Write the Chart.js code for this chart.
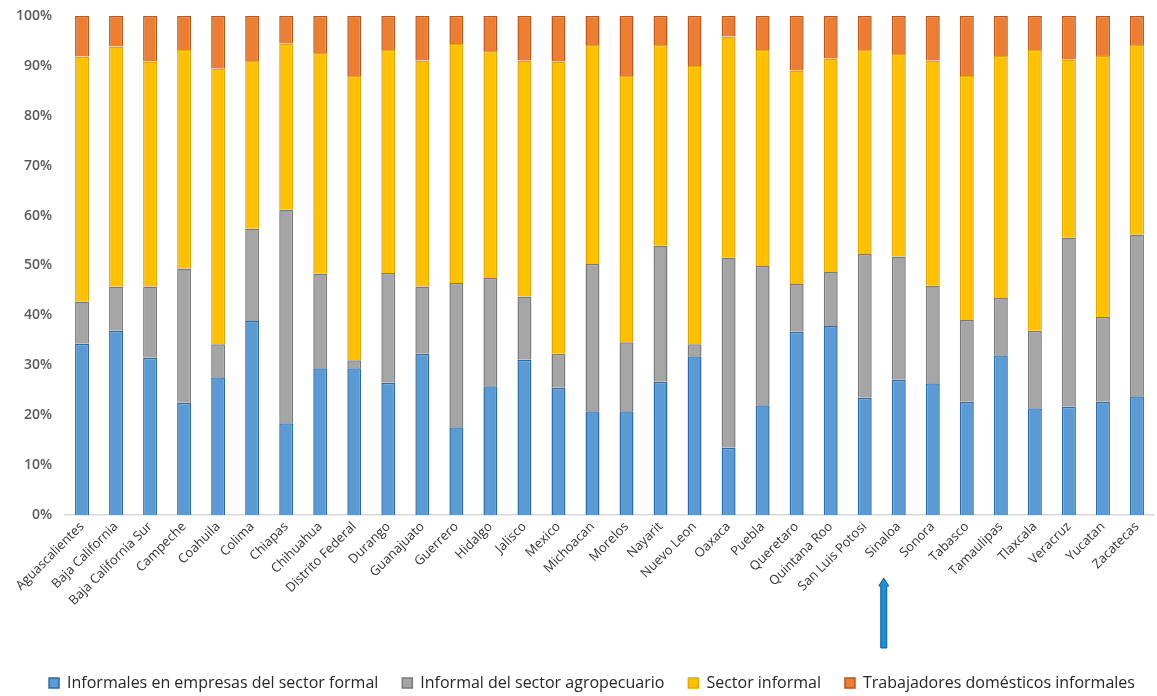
<!DOCTYPE html>
<html>
<head>
<meta charset="utf-8">
<script src="https://cdn.jsdelivr.net/npm/chart.js@4"></script>
<style>
  html, body { margin: 0; padding: 0; background: #fff; overflow: hidden; }
  #wrap { width: 1157px; height: 696px; position: relative; }
</style>
</head>
<body>
<div id="wrap"><canvas id="informalChart"></canvas></div>
<script>
// States (categories)
const states = ['Aguascalientes', 'Baja California', 'Baja California Sur', 'Campeche', 'Coahuila',
  'Colima', 'Chiapas', 'Chihuahua', 'Distrito Federal', 'Durango', 'Guanajuato', 'Guerrero',
  'Hidalgo', 'Jalisco', 'Mexico', 'Michoacan', 'Morelos', 'Nayarit', 'Nuevo Leon', 'Oaxaca',
  'Puebla', 'Queretaro', 'Quintana Roo', 'San Luis Potosi', 'Sinaloa', 'Sonora', 'Tabasco',
  'Tamaulipas', 'Tlaxcala', 'Veracruz', 'Yucatan', 'Zacatecas'];

// Shares (%)
const informalesFormal = [34.3, 36.9, 31.5, 22.5, 27.6, 38.9, 18.4, 29.4, 29.4, 26.5, 32.3, 17.6,
  25.8, 31.1, 25.5, 20.8, 20.8, 26.7, 31.8, 13.5, 22.0, 36.7, 37.9, 23.5, 27.1, 26.4, 22.7,
  32.0, 21.4, 21.7, 22.7, 23.8];
const agropecuario = [8.5, 8.9, 14.3, 26.9, 6.6, 18.5, 42.8, 19.0, 1.6, 22.0, 13.5, 28.9,
  21.7, 12.7, 6.8, 29.5, 13.8, 27.3, 2.4, 38.1, 27.9, 9.6, 10.8, 28.8, 24.7, 19.6, 16.4,
  11.5, 15.5, 33.9, 17.0, 32.4];
const sectorInformal = [49.1, 48.1, 45.1, 43.8, 55.3, 33.6, 33.3, 44.2, 57.0, 44.7, 45.3, 47.9,
  45.5, 47.3, 58.6, 43.9, 53.4, 40.2, 55.8, 44.3, 43.3, 42.8, 42.8, 40.9, 40.6, 45.1, 48.9,
  48.5, 56.3, 35.7, 52.3, 38.0];
const domesticos = [8.1, 6.1, 9.1, 6.8, 10.5, 9.0, 5.5, 7.4, 12.0, 6.8, 8.9, 5.6,
  7.0, 8.9, 9.1, 5.8, 12.0, 5.8, 10.0, 4.1, 6.8, 10.9, 8.5, 6.8, 7.6, 8.9, 12.0,
  8.0, 6.8, 8.7, 8.0, 5.8];

const seriesNames = ['Informales en empresas del sector formal', 'Informal del sector agropecuario',
  'Sector informal', 'Trabajadores domésticos informales'];

const yTicks = [0, 10, 20, 30, 40, 50, 60, 70, 80, 90, 100];

// highlighted state (arrow under its label)
const markedState = 'Sinaloa';

const fontFamily = '"Open Sans", "Liberation Sans", sans-serif';

// arrow under the marked state label
const arrowPlugin = {
  id: 'stateArrow',
  afterDraw(chart) {
    const x = chart.scales.x.getPixelForValue(states.indexOf(markedState)) - 15;
    const top = chart.chartArea.bottom + 63;
    const bottom = chart.chartArea.bottom + 133;
    const ctx = chart.ctx;
    ctx.save();
    ctx.beginPath();
    ctx.moveTo(x, top);
    ctx.lineTo(x + 5, top + 8);
    ctx.lineTo(x + 3, top + 8);
    ctx.lineTo(x + 3, bottom);
    ctx.lineTo(x - 3, bottom);
    ctx.lineTo(x - 3, top + 8);
    ctx.lineTo(x - 5, top + 8);
    ctx.closePath();
    ctx.fillStyle = '#1b8fd8';
    ctx.fill();
    ctx.lineWidth = 1;
    ctx.strokeStyle = '#0d5c9c';
    ctx.stroke();
    ctx.restore();
  }
};

// nudge the legend a bit lower and to the right, like in the original
const legendShift = {
  id: 'legendShift',
  afterLayout(chart) {
    chart.legend.top += 5;
    chart.legend.bottom += 5;
    chart.legend.left += 15;
    chart.legend.right += 15;
  }
};

const ctx = document.getElementById('informalChart').getContext('2d');
new Chart(ctx, {
  type: 'bar',
  data: {
    labels: states,
    datasets: [
      { label: seriesNames[0], data: informalesFormal, backgroundColor: '#5b9bd5', borderColor: '#2a6aa8' },
      { label: seriesNames[1], data: agropecuario, backgroundColor: '#a5a5a5', borderColor: '#787878' },
      { label: seriesNames[2], data: sectorInformal, backgroundColor: '#ffc000', borderColor: '#e3a600' },
      { label: seriesNames[3], data: domesticos, backgroundColor: '#ed7d31', borderColor: '#bd5419' }
    ].map(d => Object.assign(d, { borderWidth: 1.5, barPercentage: 0.41, categoryPercentage: 1 }))
  },
  options: {
    responsive: true,
    maintainAspectRatio: false,
    animation: false,
    layout: { padding: { top: 16, right: 3, left: 0, bottom: 0 } },
    plugins: {
      tooltip: { enabled: false },
      legend: {
        position: 'bottom',
        labels: {
          boxWidth: 10,
          boxHeight: 10,
          padding: 24,
          color: '#262626',
          font: { family: fontFamily, size: 16 }
        }
      }
    },
    scales: {
      x: {
        stacked: true,
        grid: { display: false, drawTicks: false },
        border: { display: true, color: '#d9d9d9', width: 1.5 },
        ticks: {
          autoSkip: false,
          minRotation: 45,
          maxRotation: 45,
          padding: 4,
          color: '#333333',
          font: { family: fontFamily, size: 13 }
        },
        afterFit(scale) { scale.height = 131; }
      },
      y: {
        stacked: true,
        min: 0,
        max: 100,
        grid: { display: false, drawTicks: false },
        border: { display: false },
        afterBuildTicks(scale) { scale.ticks = yTicks.map(v => ({ value: v })); },
        ticks: {
          padding: 13,
          color: '#595959',
          font: { family: fontFamily, size: 14, weight: '600' },
          callback: v => v + '%'
        },
        afterFit(scale) {
          scale.width = 65;
          scale.paddingTop = 0;
          scale.paddingBottom = 0;
        }
      }
    }
  },
  plugins: [arrowPlugin, legendShift]
});
</script>
</body>
</html>
